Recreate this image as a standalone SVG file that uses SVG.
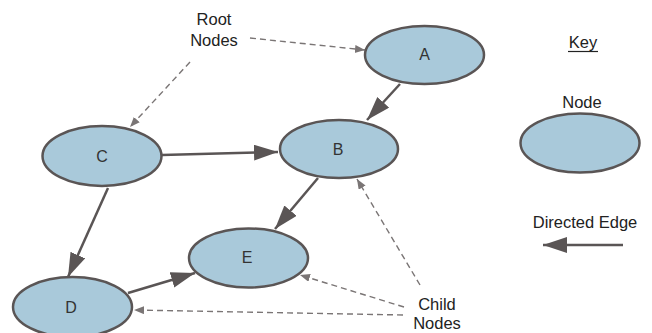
<svg xmlns="http://www.w3.org/2000/svg" width="652" height="333" viewBox="0 0 652 333">
<style>
.node ellipse{fill:#a9c9da;stroke:#5a5555;stroke-width:2.5}
text{font-family:"Liberation Sans",Arial,sans-serif;font-size:16.5px;fill:#222;text-anchor:middle}
.node text{font-size:16px;fill:#333}
.edge{stroke:#5a5555;stroke-width:2.5;fill:none}
.dash{stroke:#7a7575;stroke-width:1.4;fill:none;stroke-dasharray:6 4}
</style>
<defs>
<marker id="ah" markerUnits="userSpaceOnUse" markerWidth="26" markerHeight="18" refX="24" refY="8" orient="auto">
<path d="M0,0 L24,8 L0,16 z" fill="#5a5555"/>
</marker>
<marker id="dh" markerUnits="userSpaceOnUse" markerWidth="12" markerHeight="10" refX="10" refY="4" orient="auto">
<path d="M0,0 L10,4 L0,8 z" fill="#7a7575"/>
</marker>
</defs>
<g id="connectors">
<line class="edge" x1="400" y1="84" x2="367" y2="120" marker-end="url(#ah)"/>
<line class="edge" x1="162" y1="155" x2="278" y2="152" marker-end="url(#ah)"/>
<line class="edge" x1="318" y1="178" x2="275" y2="229" marker-end="url(#ah)"/>
<line class="edge" x1="108" y1="188" x2="68" y2="277" marker-end="url(#ah)"/>
<line class="edge" x1="128" y1="293" x2="195" y2="273" marker-end="url(#ah)"/>
<line class="dash" x1="250" y1="38" x2="365" y2="50" marker-end="url(#dh)"/>
<line class="dash" x1="190" y1="62" x2="130" y2="127" marker-end="url(#dh)"/>
<line class="dash" x1="420" y1="285" x2="357" y2="179" marker-end="url(#dh)"/>
<line class="dash" x1="404" y1="307" x2="300" y2="275" marker-end="url(#dh)"/>
<line class="dash" x1="403" y1="315" x2="134" y2="310" marker-end="url(#dh)"/>
<line class="edge" x1="623" y1="245" x2="543" y2="245" marker-end="url(#ah)"/>
</g>
<g id="A" class="node"><ellipse cx="424.5" cy="55" rx="59.5" ry="29"/><text x="424.5" y="60">A</text></g>
<g id="B" class="node"><ellipse cx="339" cy="149" rx="59" ry="29"/><text x="338" y="155">B</text></g>
<g id="C" class="node"><ellipse cx="102" cy="156" rx="59.5" ry="30"/><text x="102" y="162">C</text></g>
<g id="E" class="node"><ellipse cx="248.5" cy="258" rx="59.5" ry="29.5"/><text x="247" y="263">E</text></g>
<g id="D" class="node"><ellipse cx="72.5" cy="307" rx="59.5" ry="30"/><text x="71" y="313">D</text></g>
<g id="KeyNode" class="node"><ellipse cx="580" cy="143" rx="59.5" ry="29.5"/></g>
<g id="labels">
<text x="214" y="25">Root</text>
<text x="214" y="46">Nodes</text>
<text x="437" y="310">Child</text>
<text x="437" y="329">Nodes</text>
<text x="583" y="48">Key</text>
<line x1="568" y1="51.5" x2="598" y2="51.5" stroke="#222" stroke-width="1.2"/>
<text x="582" y="108">Node</text>
<text x="585" y="228">Directed Edge</text>
</g>
</svg>
